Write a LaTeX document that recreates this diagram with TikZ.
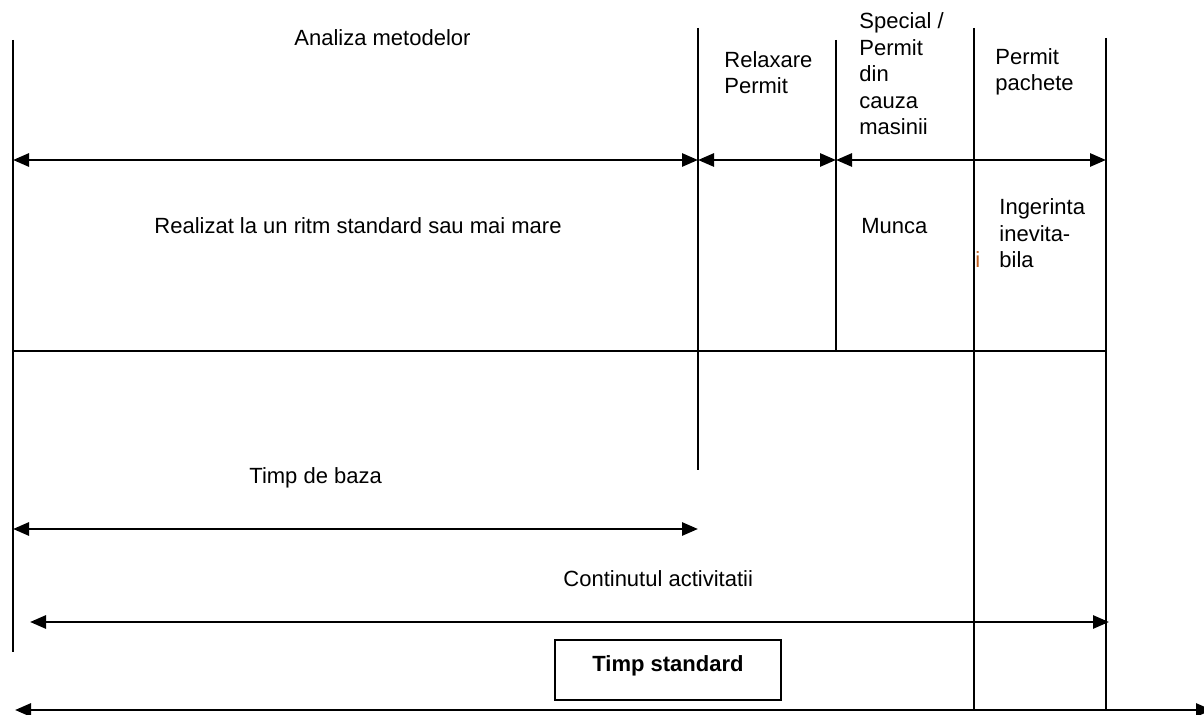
\documentclass[tikz,border=0pt]{standalone}
\usepackage{fontspec}
\setmainfont{Liberation Sans}
\usetikzlibrary{arrows.meta}
\definecolor{ibrown}{RGB}{192,96,32}

\begin{document}
\begin{tikzpicture}[x=0.5pt,y=-0.5pt,>={Triangle[length=8pt,width=6.5pt]},
  line width=1.4pt,
  text node/.style={anchor=base west,inner sep=0pt,align=left,font=\fontsize{11}{13.3}\selectfont},
  dim arrow/.style={<->,line width=1.4pt},
  std box/.style={draw,line width=1.1pt,minimum width=113pt,inner xsep=0pt,inner ysep=0pt,
    text height=15.5pt,text depth=14.5pt,font=\fontsize{11}{13.3}\selectfont\bfseries}]
  \useasboundingbox (0,0) rectangle (1204,715);

  % line ends
  \coordinate (v1t) at (13,40);   \coordinate (v1b) at (13,652);
  \coordinate (v2t) at (698,28);  \coordinate (v2b) at (698,470);
  \coordinate (v3t) at (836,40);  \coordinate (v3b) at (836,351);
  \coordinate (v4t) at (974,28);  \coordinate (v4b) at (974,710);
  \coordinate (v5t) at (1106,38); \coordinate (v5b) at (1106,710);
  \coordinate (hl) at (13,351);   \coordinate (hr) at (1106,351);

  \coordinate (a1) at (13,160);  \coordinate (a2) at (698,160);
  \coordinate (a3) at (836,160); \coordinate (a4) at (1106,160);
  \coordinate (b1) at (13,529);  \coordinate (b2) at (698,529);
  \coordinate (c1) at (30,622);  \coordinate (c2) at (1109,622);
  \coordinate (d1) at (15,710);  \coordinate (d2) at (1212,710);

  % labels (base = last line)
  \node[text node] (analiza) at (293,46) {Analiza metodelor};
  \node[text node] (relax) at (723,94) {Relaxare\\Permit};
  \node[text node] (special) at (858,135) {Special /\\Permit\\din\\cauza\\masinii};
  \node[text node] (pachete) at (994,91) {Permit\\pachete};
  \node[text node] (ritm) at (153,234) {Realizat la un ritm standard sau mai mare};
  \node[text node] (munca) at (860,234) {Munca};
  \node[text node] (ingerinta) at (998,268) {Ingerinta\\inevita-\\bila};
  \node[text node,text=ibrown] (mici) at (974,268) {i};
  \node[text node] (baza) at (248,484) {Timp de baza};
  \node[text node] (continut) at (562,587) {Continutul activitatii};
  \node[std box] (standard) at (668,670) {Timp standard};

  % grid
  \draw (v1t) -- (v1b);
  \draw (v2t) -- (v2b);
  \draw (v3t) -- (v3b);
  \draw (v4t) -- (v4b);
  \draw (v5t) -- (v5b);
  \draw[line width=1.1pt] (hl) -- (hr);

  % dimension arrows
  \draw[dim arrow] (a1) -- (a2);
  \draw[dim arrow] (a2) -- (a3);
  \draw[dim arrow] (a3) -- (a4);
  \draw[dim arrow] (b1) -- (b2);
  \draw[dim arrow] (c1) -- (c2);
  \draw[dim arrow] (d1) -- (d2);
\end{tikzpicture}
\end{document}
